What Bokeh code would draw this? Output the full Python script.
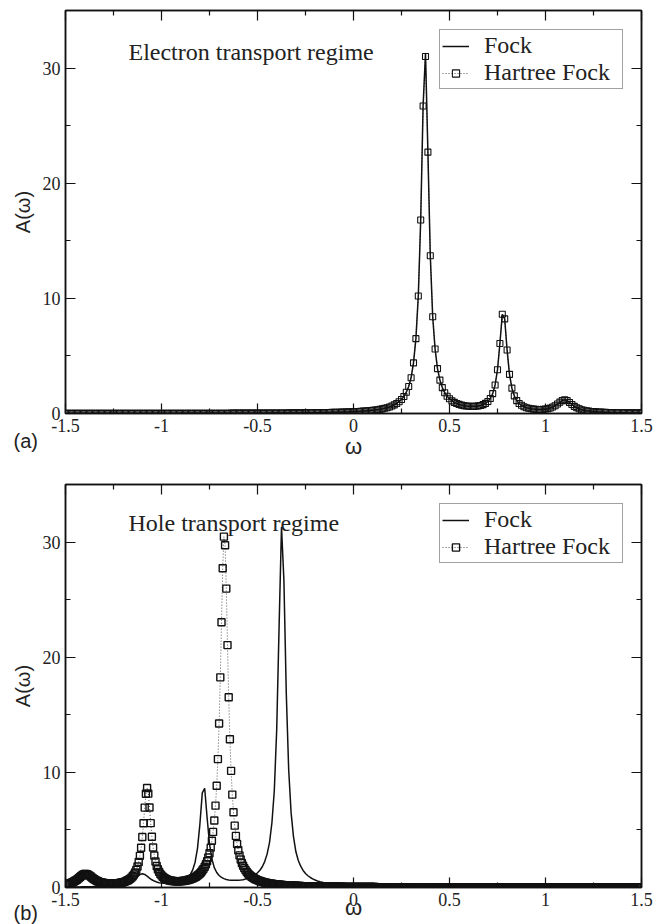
import numpy as np
from bokeh.plotting import figure
from bokeh.layouts import column
from bokeh.models import (FixedTicker, LinearAxis, Legend, LegendItem, Label, Range1d,
                          Title, CustomJSTickFormatter)
from bokeh.embed import file_html
from bokeh.resources import INLINE

# Sampling grids in omega
omega_coarse = np.linspace(-1.5, 1.5, 241)
omega_fine = np.linspace(-1.5, 1.5, 481)

# Electron transport regime: spectral function A(omega)
fock_electron = [
    0.01, 0.01, 0.01, 0.01, 0.01, 0.01, 0.01, 0.01, 0.01, 0.01, 0.01, 0.01,
    0.01, 0.01, 0.01, 0.01, 0.01, 0.01, 0.01, 0.01, 0.01, 0.01, 0.01, 0.01,
    0.01, 0.01, 0.01, 0.01, 0.01, 0.01, 0.01, 0.01, 0.01, 0.01, 0.01, 0.01,
    0.01, 0.01, 0.01, 0.01, 0.01, 0.01, 0.01, 0.01, 0.01, 0.01, 0.01, 0.01,
    0.02, 0.02, 0.02, 0.02, 0.02, 0.02, 0.02, 0.02, 0.02, 0.02, 0.02, 0.02,
    0.02, 0.02, 0.02, 0.02, 0.02, 0.02, 0.02, 0.02, 0.02, 0.03, 0.03, 0.03,
    0.03, 0.03, 0.03, 0.03, 0.03, 0.03, 0.03, 0.03, 0.03, 0.03, 0.03, 0.03,
    0.03, 0.04, 0.04, 0.04, 0.04, 0.04, 0.04, 0.04, 0.04, 0.05, 0.05, 0.05,
    0.05, 0.05, 0.05, 0.06, 0.06, 0.06, 0.07, 0.07, 0.07, 0.07, 0.08, 0.08,
    0.08, 0.09, 0.09, 0.10, 0.10, 0.10, 0.11, 0.12, 0.12, 0.13, 0.14, 0.15,
    0.16, 0.17, 0.18, 0.19, 0.21, 0.22, 0.24, 0.26, 0.28, 0.30, 0.33, 0.36,
    0.40, 0.45, 0.50, 0.57, 0.65, 0.75, 0.87, 1.02, 1.22, 1.48, 1.85, 2.35,
    3.1, 4.4, 6.5, 10.2, 16.8, 26.7, 31.3, 22.7, 13.7, 8.4, 5.6, 3.9,
    2.9, 2.25, 1.80, 1.50, 1.28, 1.10, 0.97, 0.87, 0.79, 0.73, 0.68, 0.65,
    0.63, 0.62, 0.62, 0.63, 0.66, 0.70, 0.77, 0.88, 1.04, 1.30, 1.73, 2.48,
    3.80, 6.08, 8.62, 8.22, 5.51, 3.40, 2.20, 1.53, 1.12, 0.87, 0.71, 0.59,
    0.50, 0.45, 0.41, 0.38, 0.36, 0.35, 0.35, 0.36, 0.39, 0.42, 0.48, 0.56,
    0.67, 0.82, 0.99, 1.13, 1.19, 1.12, 0.96, 0.78, 0.62, 0.50, 0.41, 0.33,
    0.28, 0.24, 0.21, 0.18, 0.16, 0.14, 0.13, 0.12, 0.11, 0.10, 0.09, 0.08,
    0.08, 0.07, 0.07, 0.07, 0.06, 0.06, 0.05, 0.05, 0.05, 0.05, 0.05, 0.05,
    0.05,
]

hf_electron = [
    0.01, 0.01, 0.01, 0.01, 0.01, 0.01, 0.01, 0.01, 0.01, 0.01, 0.01, 0.01,
    0.01, 0.01, 0.01, 0.01, 0.01, 0.01, 0.01, 0.01, 0.01, 0.01, 0.01, 0.01,
    0.01, 0.01, 0.01, 0.01, 0.01, 0.01, 0.01, 0.01, 0.01, 0.01, 0.01, 0.01,
    0.01, 0.01, 0.01, 0.01, 0.01, 0.01, 0.01, 0.01, 0.01, 0.01, 0.01, 0.01,
    0.02, 0.02, 0.02, 0.02, 0.02, 0.02, 0.02, 0.02, 0.02, 0.02, 0.02, 0.02,
    0.02, 0.02, 0.02, 0.02, 0.02, 0.02, 0.02, 0.02, 0.02, 0.03, 0.03, 0.03,
    0.03, 0.03, 0.03, 0.03, 0.03, 0.03, 0.03, 0.03, 0.03, 0.03, 0.03, 0.03,
    0.03, 0.04, 0.04, 0.04, 0.04, 0.04, 0.04, 0.04, 0.04, 0.05, 0.05, 0.05,
    0.05, 0.05, 0.05, 0.06, 0.06, 0.06, 0.07, 0.07, 0.07, 0.07, 0.08, 0.08,
    0.08, 0.09, 0.09, 0.10, 0.10, 0.10, 0.11, 0.12, 0.12, 0.13, 0.14, 0.15,
    0.16, 0.17, 0.18, 0.19, 0.21, 0.22, 0.24, 0.26, 0.28, 0.30, 0.33, 0.36,
    0.40, 0.45, 0.50, 0.57, 0.65, 0.75, 0.87, 1.02, 1.22, 1.48, 1.85, 2.35,
    3.1, 4.4, 6.5, 10.2, 16.8, 26.7, 31.0, 22.7, 13.7, 8.4, 5.6, 3.9,
    2.9, 2.25, 1.80, 1.50, 1.28, 1.10, 0.97, 0.87, 0.79, 0.73, 0.68, 0.65,
    0.63, 0.62, 0.62, 0.63, 0.66, 0.70, 0.77, 0.88, 1.04, 1.30, 1.73, 2.48,
    3.80, 6.08, 8.62, 8.22, 5.51, 3.40, 2.20, 1.53, 1.12, 0.87, 0.71, 0.59,
    0.50, 0.45, 0.41, 0.38, 0.36, 0.35, 0.35, 0.36, 0.39, 0.42, 0.48, 0.56,
    0.67, 0.82, 0.99, 1.13, 1.19, 1.12, 0.96, 0.78, 0.62, 0.50, 0.41, 0.33,
    0.28, 0.24, 0.21, 0.18, 0.16, 0.14, 0.13, 0.12, 0.11, 0.10, 0.09, 0.08,
    0.08, 0.07, 0.07, 0.07, 0.06, 0.06, 0.05, 0.05, 0.05, 0.05, 0.05, 0.05,
    0.05,
]

# Hole transport regime: spectral function A(omega)
fock_hole = [
    0.05, 0.05, 0.05, 0.05, 0.05, 0.05, 0.05, 0.06, 0.06, 0.07, 0.07, 0.07,
    0.08, 0.08, 0.09, 0.10, 0.11, 0.12, 0.13, 0.14, 0.16, 0.18, 0.21, 0.24,
    0.28, 0.33, 0.41, 0.50, 0.62, 0.78, 0.96, 1.12, 1.19, 1.13, 0.99, 0.82,
    0.67, 0.56, 0.48, 0.42, 0.39, 0.36, 0.35, 0.35, 0.36, 0.38, 0.41, 0.45,
    0.50, 0.59, 0.71, 0.87, 1.12, 1.53, 2.20, 3.40, 5.51, 8.22, 8.62, 6.08,
    3.80, 2.48, 1.73, 1.30, 1.04, 0.88, 0.77, 0.70, 0.66, 0.63, 0.62, 0.62,
    0.63, 0.65, 0.68, 0.73, 0.79, 0.87, 0.97, 1.10, 1.28, 1.50, 1.80, 2.25,
    2.9, 3.9, 5.6, 8.4, 13.7, 22.7, 31.3, 26.7, 16.8, 10.2, 6.5, 4.4,
    3.1, 2.35, 1.85, 1.48, 1.22, 1.02, 0.87, 0.75, 0.65, 0.57, 0.50, 0.45,
    0.40, 0.36, 0.33, 0.30, 0.28, 0.26, 0.24, 0.22, 0.21, 0.19, 0.18, 0.17,
    0.16, 0.15, 0.14, 0.13, 0.12, 0.12, 0.11, 0.10, 0.10, 0.10, 0.09, 0.09,
    0.08, 0.08, 0.08, 0.07, 0.07, 0.07, 0.07, 0.06, 0.06, 0.06, 0.05, 0.05,
    0.05, 0.05, 0.05, 0.05, 0.04, 0.04, 0.04, 0.04, 0.04, 0.04, 0.04, 0.04,
    0.03, 0.03, 0.03, 0.03, 0.03, 0.03, 0.03, 0.03, 0.03, 0.03, 0.03, 0.03,
    0.03, 0.03, 0.03, 0.03, 0.02, 0.02, 0.02, 0.02, 0.02, 0.02, 0.02, 0.02,
    0.02, 0.02, 0.02, 0.02, 0.02, 0.02, 0.02, 0.02, 0.02, 0.02, 0.02, 0.02,
    0.02, 0.01, 0.01, 0.01, 0.01, 0.01, 0.01, 0.01, 0.01, 0.01, 0.01, 0.01,
    0.01, 0.01, 0.01, 0.01, 0.01, 0.01, 0.01, 0.01, 0.01, 0.01, 0.01, 0.01,
    0.01, 0.01, 0.01, 0.01, 0.01, 0.01, 0.01, 0.01, 0.01, 0.01, 0.01, 0.01,
    0.01, 0.01, 0.01, 0.01, 0.01, 0.01, 0.01, 0.01, 0.01, 0.01, 0.01, 0.01,
    0.01,
]

hf_hole = [
    0.26, 0.29, 0.31, 0.34, 0.38, 0.42, 0.46, 0.52, 0.58, 0.64, 0.72, 0.81,
    0.90, 0.99, 1.07, 1.14, 1.18, 1.18, 1.16, 1.10, 1.03, 0.95, 0.86, 0.78,
    0.71, 0.64, 0.58, 0.54, 0.49, 0.46, 0.43, 0.41, 0.39, 0.37, 0.36, 0.35,
    0.35, 0.34, 0.34, 0.34, 0.34, 0.35, 0.36, 0.37, 0.38, 0.39, 0.41, 0.44,
    0.46, 0.49, 0.53, 0.58, 0.63, 0.69, 0.77, 0.86, 0.98, 1.12, 1.30, 1.53,
    1.83, 2.22, 2.75, 3.45, 4.38, 5.58, 6.94, 8.14, 8.64, 8.15, 6.95, 5.59,
    4.41, 3.48, 2.78, 2.26, 1.87, 1.58, 1.36, 1.18, 1.05, 0.94, 0.85, 0.78,
    0.72, 0.68, 0.64, 0.61, 0.59, 0.57, 0.56, 0.55, 0.54, 0.54, 0.54, 0.54,
    0.55, 0.56, 0.57, 0.58, 0.60, 0.62, 0.65, 0.68, 0.71, 0.75, 0.79, 0.84,
    0.90, 0.96, 1.04, 1.12, 1.22, 1.33, 1.47, 1.62, 1.80, 2.02, 2.28, 2.60,
    2.98, 3.46, 4.06, 4.83, 5.82, 7.11, 8.84, 11.15, 14.24, 18.25, 23.04, 27.72,
    30.47, 29.73, 25.96, 21.05, 16.52, 12.88, 10.13, 8.07, 6.53, 5.37, 4.48, 3.78,
    3.23, 2.79, 2.43, 2.13, 1.89, 1.68, 1.51, 1.36, 1.23, 1.12, 1.03, 0.94,
    0.87, 0.80, 0.74, 0.69, 0.64, 0.60, 0.56, 0.53, 0.50, 0.47, 0.44, 0.42,
    0.40, 0.38, 0.36, 0.34, 0.32, 0.31, 0.29, 0.28, 0.27, 0.26, 0.25, 0.24,
    0.23, 0.22, 0.21, 0.20, 0.19, 0.19, 0.18, 0.17, 0.17, 0.16, 0.16, 0.15,
    0.15, 0.14, 0.14, 0.13, 0.13, 0.12, 0.12, 0.12, 0.11, 0.11, 0.11, 0.10,
    0.10, 0.10, 0.10, 0.09, 0.09, 0.09, 0.09, 0.09, 0.08, 0.08, 0.08, 0.08,
    0.08, 0.07, 0.07, 0.07, 0.07, 0.07, 0.07, 0.06, 0.06, 0.06, 0.06, 0.06,
    0.06, 0.06, 0.06, 0.06, 0.05, 0.05, 0.05, 0.05, 0.05, 0.05, 0.05, 0.05,
    0.05, 0.05, 0.05, 0.05, 0.05, 0.04, 0.04, 0.04, 0.04, 0.04, 0.04, 0.04,
    0.04, 0.04, 0.04, 0.04, 0.04, 0.04, 0.04, 0.03, 0.03, 0.03, 0.03, 0.03,
    0.03, 0.03, 0.03, 0.03, 0.03, 0.03, 0.03, 0.03, 0.03, 0.03, 0.03, 0.03,
    0.03, 0.03, 0.03, 0.03, 0.03, 0.03, 0.03, 0.03, 0.03, 0.02, 0.02, 0.02,
    0.02, 0.02, 0.02, 0.02, 0.02, 0.02, 0.02, 0.02, 0.02, 0.02, 0.02, 0.02,
    0.02, 0.02, 0.02, 0.02, 0.02, 0.02, 0.02, 0.02, 0.02, 0.02, 0.02, 0.02,
    0.02, 0.02, 0.02, 0.02, 0.02, 0.02, 0.02, 0.02, 0.02, 0.02, 0.02, 0.02,
    0.02, 0.02, 0.02, 0.02, 0.02, 0.02, 0.01, 0.01, 0.01, 0.01, 0.01, 0.01,
    0.01, 0.01, 0.01, 0.01, 0.01, 0.01, 0.01, 0.01, 0.01, 0.01, 0.01, 0.01,
    0.01, 0.01, 0.01, 0.01, 0.01, 0.01, 0.01, 0.01, 0.01, 0.01, 0.01, 0.01,
    0.01, 0.01, 0.01, 0.01, 0.01, 0.01, 0.01, 0.01, 0.01, 0.01, 0.01, 0.01,
    0.01, 0.01, 0.01, 0.01, 0.01, 0.01, 0.01, 0.01, 0.01, 0.01, 0.01, 0.01,
    0.01, 0.01, 0.01, 0.01, 0.01, 0.01, 0.01, 0.01, 0.01, 0.01, 0.01, 0.01,
    0.01, 0.01, 0.01, 0.01, 0.01, 0.01, 0.01, 0.01, 0.01, 0.01, 0.01, 0.01,
    0.01, 0.01, 0.01, 0.01, 0.01, 0.01, 0.01, 0.01, 0.01, 0.01, 0.01, 0.01,
    0.01, 0.01, 0.01, 0.01, 0.01, 0.01, 0.01, 0.01, 0.01, 0.01, 0.01, 0.01,
    0.01, 0.01, 0.01, 0.01, 0.01, 0.01, 0.01, 0.01, 0.01, 0.01, 0.01, 0.01,
    0.01, 0.01, 0.01, 0.01, 0.01, 0.01, 0.01, 0.01, 0.01, 0.01, 0.01, 0.01,
    0.01, 0.01, 0.01, 0.01, 0.01, 0.01, 0.01, 0.01, 0.01, 0.01, 0.01, 0.01,
    0.01, 0.01, 0.01, 0.01, 0.01, 0.01, 0.01, 0.01, 0.01, 0.01, 0.01, 0.01,
    0.01,
]

x_ticks = [-1.5, -1.0, -0.5, 0.0, 0.5, 1.0, 1.5]
x_tick_labels = ["-1.5", "-1", "-0.5", "0", "0.5", "1", "1.5"]
x_minor = [-1.25, -0.75, -0.25, 0.25, 0.75, 1.25]
y_ticks = [0, 10, 20, 30]
y_minor = [5, 15, 25]

SERIF = "Liberation Serif"
SANS = "Liberation Sans"
INK = "#111111"
TEXT = "#222222"


def style_axis(ax, show_labels):
    ax.axis_line_color = INK
    ax.axis_line_width = 1.5
    ax.major_tick_in = 10
    ax.major_tick_out = 0
    ax.minor_tick_in = 5
    ax.minor_tick_out = 0
    ax.major_tick_line_color = INK
    ax.minor_tick_line_color = INK
    ax.major_tick_line_width = 1.2
    ax.minor_tick_line_width = 1.2
    if show_labels:
        ax.major_label_text_font = SERIF
        ax.major_label_text_font_size = "18px"
        ax.major_label_text_color = TEXT
    else:
        ax.formatter = CustomJSTickFormatter(code="return ''")
        ax.major_label_standoff = 0


def side_text(text, align, offset, vertical_align, standoff, size):
    return Title(text=text, align=align, offset=offset, vertical_align=vertical_align,
                 standoff=standoff, text_font=SANS, text_font_size=size,
                 text_font_style="normal", text_color=TEXT)


def build_panel(fock, hf, title, title_y, height, border_bottom, mark_size, mark_width):
    p = figure(width=654, height=height,
               x_range=Range1d(-1.5, 1.5), y_range=Range1d(0, 35),
               output_backend="svg", toolbar_location=None,
               min_border_left=65, min_border_right=13,
               min_border_top=10, min_border_bottom=border_bottom)
    p.grid.visible = False
    p.outline_line_color = INK
    p.outline_line_width = 1.5
    p.background_fill_color = "white"
    p.border_fill_color = "white"

    omega_hf = omega_coarse if len(hf) == len(omega_coarse) else omega_fine
    hf_line = p.line(omega_hf, hf, line_color="#555555", line_width=1, line_dash="1 2")
    hf_marks = p.scatter(omega_hf, hf, marker="square", size=mark_size, fill_color=None,
                         line_color=INK, line_width=mark_width)
    fock_line = p.line(omega_coarse, fock, line_color=INK, line_width=1.5)

    xt = FixedTicker(ticks=x_ticks, minor_ticks=x_minor)
    yt = FixedTicker(ticks=y_ticks, minor_ticks=y_minor)
    xa = p.xaxis[0]
    ya = p.yaxis[0]
    xa.ticker = xt
    ya.ticker = yt
    xa.major_label_overrides = dict(zip(x_ticks, x_tick_labels))
    style_axis(xa, True)
    style_axis(ya, True)
    xa.major_label_standoff = 5
    ya.major_label_standoff = 5
    ya.axis_label = "A(ω)"
    ya.axis_label_text_font = SANS
    ya.axis_label_text_font_size = "20px"
    ya.axis_label_text_font_style = "normal"
    ya.axis_label_text_color = TEXT
    ya.axis_label_standoff = 6

    top = LinearAxis(ticker=xt)
    right = LinearAxis(ticker=yt)
    style_axis(top, False)
    style_axis(right, False)
    p.add_layout(top, "above")
    p.add_layout(right, "right")

    legend = Legend(items=[LegendItem(label="Fock", renderers=[fock_line]),
                           LegendItem(label="Hartree Fock", renderers=[hf_line, hf_marks])],
                    location=(374, 324))
    legend.border_line_color = "#444444"
    legend.border_line_width = 1
    legend.background_fill_color = "white"
    legend.padding = 2
    legend.spacing = 0
    legend.margin = 0
    legend.label_text_font = SERIF
    legend.label_text_font_size = "24px"
    legend.label_text_color = TEXT
    legend.glyph_width = 27
    legend.glyph_height = 18
    legend.label_height = 18
    legend.label_width = 136
    legend.label_standoff = 15
    p.add_layout(legend)

    p.add_layout(Label(x=-1.172, y=title_y, text=title, text_font=SERIF,
                       text_font_size="24px", text_color=TEXT,
                       text_baseline="alphabetic"))
    return p


p_top = build_panel(fock_electron, hf_electron, "Electron transport regime", 31.4,
                    474, 61, 6, 1.1)
p_top.add_layout(side_text("(a)", "left", -52, "middle", -12, "20px"), "below")
p_top.add_layout(side_text("ω", "center", 0, "top", -26, "22px"), "below")

p_bottom = build_panel(fock_hole, hf_hole, "Hole transport regime", 31.65,
                       450, 37, 7, 1.4)
p_bottom.add_layout(side_text("ω", "center", 0, "top", -27, "22px"), "below")
p_bottom.add_layout(side_text("(b)", "left", -52, "middle", -15, "20px"), "below")

page = column(p_top, p_bottom, spacing=0)
open("out.html", "w").write(file_html(page, INLINE))
